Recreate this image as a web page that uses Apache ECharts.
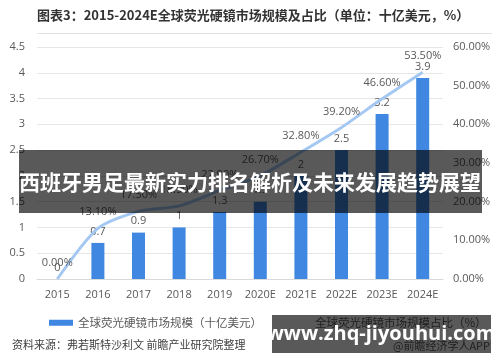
<!DOCTYPE html>
<html><head><meta charset="utf-8">
<script src="https://cdn.jsdelivr.net/npm/echarts@6/dist/echarts.min.js"></script>
<style>html,body{margin:0;padding:0;background:#fff}#c{width:500px;height:362px}</style>
</head><body><div id="c"></div>
<script>
var categories = ['2015','2016','2017','2018','2019','2020E','2021E','2022E','2023E','2024E'];
var marketSize = [0, 0.7, 0.9, 1, 1.3, 1.5, 2, 2.5, 3.2, 3.9];
var marketShare = [0, 13.1, 17.5, 18.9, 22.9, 26.7, 32.8, 39.2, 46.6, 53.5];
var leftTicks = {min: 0, max: 4.5, interval: 0.5};
var rightTicks = {min: 0, max: 60, interval: 10};
var seriesNames = ['全球荧光硬镜市场规模（十亿美元）', '全球荧光硬镜市场规模占比（%）'];
var titleText = '图表3：2015-2024E全球荧光硬镜市场规模及占比（单位：十亿美元，%）';
var sourceText = '资料来源：弗若斯特沙利文 前瞻产业研究院整理';
var appText = '@前瞻经济学人APP';
var bannerText = '西班牙男足最新实力排名解析及未来发展趋势展望';
var urlText = 'www.zhq-jiyouhui.com';

var FONT = "'Open Sans','Noto Sans CJK SC',sans-serif";
var CJK = "'Noto Sans CJK SC',sans-serif";
var chart = echarts.init(document.getElementById('c'), null, {renderer: 'canvas'});
chart.setOption({
  animation: false,
  backgroundColor: '#fff',
  textStyle: {fontFamily: FONT},
  grid: {left: 37, right: 57, top: 47, bottom: 83},
  legend: {
    left: 44, top: 312, width: 480, itemGap: 24, itemWidth: 24, itemHeight: 6,
    textStyle: {color: '#595959', fontSize: 11.5, fontFamily: CJK},
    data: [{name: seriesNames[0], icon: 'rect'}, {name: seriesNames[1], icon: 'path://M0,4 L24,4 L24,7 L0,7 Z'}]
  },
  xAxis: {
    type: 'category', data: categories, boundaryGap: true,
    axisTick: {show: false},
    axisLine: {lineStyle: {color: '#d9d9d9'}},
    axisLabel: {color: '#595959', fontSize: 11, margin: 10, interval: 0}
  },
  yAxis: [{
    type: 'value', min: leftTicks.min, max: leftTicks.max, interval: leftTicks.interval,
    axisLine: {show: false}, axisTick: {show: false},
    splitLine: {lineStyle: {color: '#e6e6e6'}},
    axisLabel: {color: '#595959', fontSize: 11, margin: 12}
  }, {
    type: 'value', min: rightTicks.min, max: rightTicks.max, interval: rightTicks.interval,
    axisLine: {show: false}, axisTick: {show: false}, splitLine: {show: false},
    axisLabel: {color: '#595959', fontSize: 11, margin: 10, formatter: function (v) { return v.toFixed(2) + '%'; }}
  }],
  series: [{
    name: seriesNames[0], type: 'bar', data: marketSize, barWidth: 13,
    itemStyle: {color: '#3F87E0'},
    label: {show: true, position: 'top', distance: 6, color: '#595959', fontSize: 11}
  }, {
    name: seriesNames[1], type: 'line', yAxisIndex: 1, data: marketShare,
    smooth: 0.25, symbol: 'circle', symbolSize: 1, showSymbol: true,
    lineStyle: {color: '#A4C8F2', width: 3},
    itemStyle: {color: 'rgba(164,200,242,0)'},
    label: {show: true, position: 'top', distance: 10, color: '#595959', fontSize: 11,
      formatter: function (p) { return p.value.toFixed(2) + '%'; }}
  }],
  graphic: [
    {type: 'text', left: 37, top: 9, z: 100, style: {text: titleText, fill: '#333', fontSize: 13, fontWeight: 'bold', fontFamily: CJK}},
    {type: 'line', z: 100, shape: {x1: 37, y1: 33.5, x2: 492, y2: 33.5}, style: {stroke: '#e3e3e3', lineWidth: 1}},
    {type: 'text', left: 12, top: 339, z: 100, style: {text: sourceText, fill: '#404040', fontSize: 11, fontFamily: CJK}},
    {type: 'text', right: 10, top: 340, z: 100, style: {text: appText, fill: '#595959', fontSize: 11, fontFamily: CJK}},
    {type: 'rect', z: 200, shape: {x: 19, y: 150, width: 463, height: 63}, style: {fill: 'rgba(0,0,0,0.65)'}},
    {type: 'text', z: 201, x: 250, y: 182, style: {text: bannerText, fill: '#fff', fontSize: 21, fontWeight: 'bold', align: 'center', verticalAlign: 'middle', fontFamily: CJK}},
    {type: 'rect', z: 200, shape: {x: 272, y: 315, width: 219, height: 38}, style: {fill: 'rgba(0,0,0,0.65)'}},
    {type: 'text', z: 201, x: 381, y: 334, style: {text: urlText, fill: '#fff', fontSize: 20, fontWeight: 'bold', align: 'center', verticalAlign: 'middle', fontFamily: "'Open Sans','DejaVu Sans',sans-serif"}}
  ]
});
</script></body></html>
